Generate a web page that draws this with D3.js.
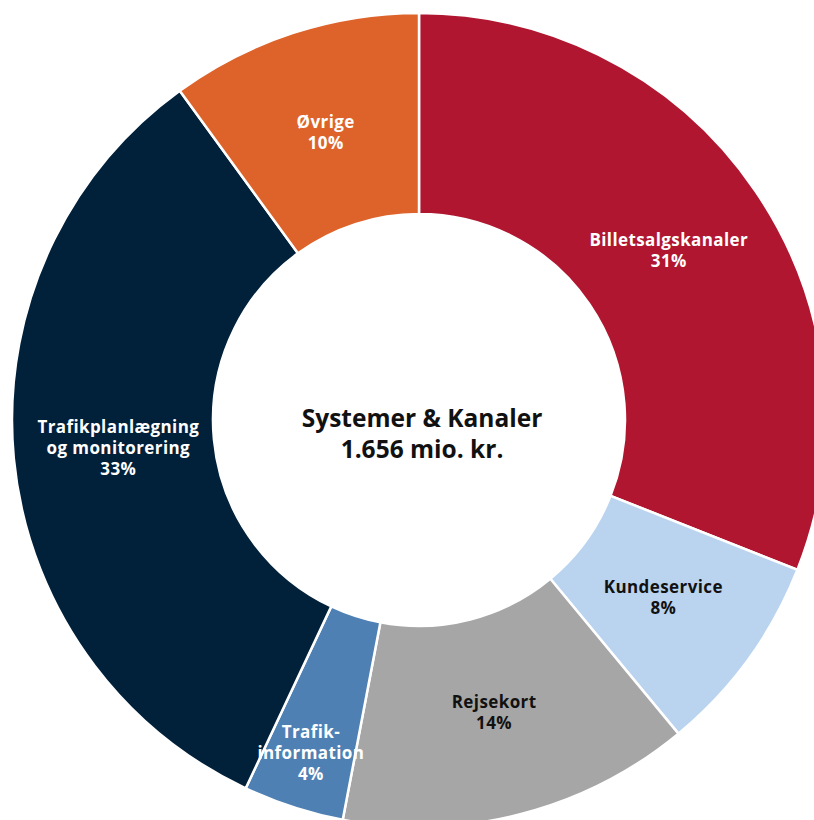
<!DOCTYPE html>
<html lang="da">
<head>
    <meta charset="UTF-8">
    <title>Systemer & Kanaler</title>
    <style>
        body { margin: 0; background: #fff; }
        .slice-label { font-family: "Open Sans", sans-serif; font-weight: 700; font-size: 17px; letter-spacing: 0.4px; }
        .center-label { font-family: "Open Sans", sans-serif; font-weight: 700; font-size: 24.5px; fill: #111; }
    </style>
</head>
<body>
<script src="https://cdn.jsdelivr.net/npm/d3@7"></script>
<script>
    var width = 814;
    var height = 820;

    // data
    var categories = ["Billetsalgskanaler", "Kundeservice", "Rejsekort", "Trafik-information", "Trafikplanlægning og monitorering", "Øvrige"];
    var labelLines = [["Billetsalgskanaler"], ["Kundeservice"], ["Rejsekort"], ["Trafik-", "information"], ["Trafikplanlægning", "og monitorering"], ["Øvrige"]];
    var shares = [31, 8, 14, 4, 33, 10];
    var colors = ["#b0162f", "#bad4f0", "#a6a6a6", "#4f80b4", "#01203a", "#dd632b"];
    var textColors = ["#fff", "#111", "#111", "#fff", "#fff", "#fff"];
    var centerLines = ["Systemer & Kanaler", "1.656 mio. kr."];

    var cx = 419, cy = 420;
    var outerR = 407, innerR = 206;

    var svg = d3.select("body").append("svg")
        .attr("width", width)
        .attr("height", height);

    var g = svg.append("g")
        .attr("transform", "translate(" + cx + "," + cy + ")");

    var pie = d3.pie()
        .value(function(d){ return d; })
        .sort(null);

    var arc = d3.arc()
        .innerRadius(innerR)
        .outerRadius(outerR);

    var arcs = pie(shares);

    g.selectAll("path")
        .data(arcs)
        .enter()
        .append("path")
        .attr("d", arc)
        .attr("fill", function(d, i){ return colors[i]; })
        .attr("stroke", "#fff")
        .attr("stroke-width", 2.5);

    // labels sit on a ring inside the donut, the thin slice is pushed outward
    var labelArc = d3.arc().innerRadius(302).outerRadius(302);
    var smallArc = d3.arc().innerRadius(350).outerRadius(350);

    var lineH = 21;
    var capH = 12;
    var labels = g.selectAll("text.slice-label")
        .data(arcs)
        .enter()
        .append("text")
        .attr("class", "slice-label")
        .attr("text-anchor", "middle")
        .attr("fill", function(d, i){ return textColors[i]; })
        .attr("transform", function(d, i){
            var c = (shares[i] < 5 ? smallArc : labelArc).centroid(d);
            var n = labelLines[i].length + 1;
            return "translate(" + c[0] + "," + (c[1] - (n - 1) * lineH / 2 + capH / 2) + ")";
        });

    labels.each(function(d, i){
        var t = d3.select(this);
        labelLines[i].concat([shares[i] + "%"]).forEach(function(s, k){
            t.append("tspan")
                .attr("x", 0)
                .attr("y", k * lineH)
                .text(s);
        });
    });

    g.append("text")
        .attr("class", "center-label")
        .attr("text-anchor", "middle")
        .selectAll("tspan")
        .data(centerLines)
        .enter()
        .append("tspan")
        .attr("x", 3)
        .attr("y", function(d, i){ return 7 + i * 31; })
        .text(function(d){ return d; });
</script>
</body>
</html>
